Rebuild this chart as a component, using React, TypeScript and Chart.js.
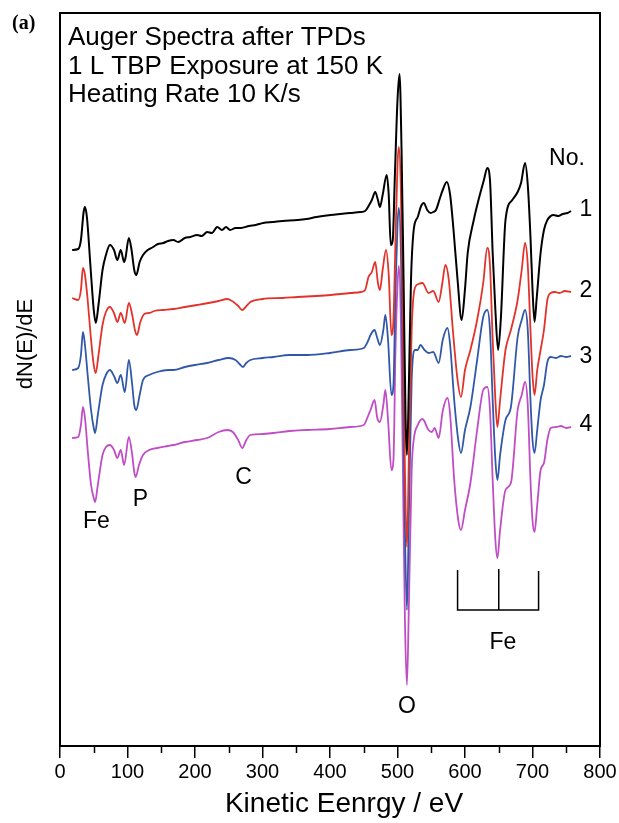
import React, { useEffect, useRef } from "react";
import { Chart, registerables } from "chart.js";

Chart.register(...registerables);

// Kinetic energy (eV) and dN(E)/dE (arb. units, offset per spectrum)
const energy1 = [18, 27, 31, 35, 37, 40, 45, 50, 53, 57, 63, 68, 74, 80, 85, 90, 95, 97, 102, 106, 110, 113, 118, 123, 130, 138, 145, 153, 160, 168, 175, 185, 193, 203, 210, 218, 225, 233, 240, 246, 252, 260, 268, 280, 290, 301, 315, 330, 352, 365, 380, 401, 415, 430, 445, 452, 458, 462, 467, 471, 474, 478, 484, 487, 490, 493, 496, 500, 503, 506, 509, 512, 514, 517, 520, 524, 530, 535, 539, 544, 549, 553, 557, 562, 567, 573, 578, 583, 589, 595, 600, 604, 613, 620, 628, 633, 637, 641, 645, 649, 653, 660, 670, 678, 683, 689, 693, 697, 700, 703, 706, 712, 717, 722, 727, 731, 738, 745, 752, 757];
const spectrum1 = [49.6, 49.7, 50.6, 53.4, 53.9, 52.8, 48.1, 43.6, 42.3, 44.1, 47.6, 49.1, 50.1, 49.6, 48.6, 49.6, 48.4, 48.8, 50.8, 49.6, 47.6, 47.1, 48.4, 49.1, 49.6, 49.9, 50.2, 50.3, 50.5, 50.6, 50.4, 50.8, 50.9, 51.1, 51.0, 51.4, 51.3, 51.9, 51.6, 51.9, 51.6, 51.8, 51.8, 52.0, 52.1, 52.3, 52.4, 52.5, 52.6, 52.7, 52.9, 53.1, 53.2, 53.3, 53.4, 53.5, 54.1, 54.6, 55.4, 54.6, 53.9, 55.1, 57.1, 55.1, 50.1, 50.6, 56.8, 64.6, 67.2, 59.6, 46.6, 32.6, 29.1, 36.6, 46.6, 51.6, 52.9, 54.0, 54.3, 53.6, 53.3, 53.4, 53.6, 54.6, 55.6, 56.4, 55.1, 51.6, 46.6, 42.6, 45.7, 49.3, 52.6, 54.6, 56.6, 57.8, 56.6, 49.3, 43.6, 39.6, 42.6, 52.6, 54.6, 55.4, 56.3, 58.3, 56.1, 50.9, 45.7, 42.4, 44.6, 49.3, 51.6, 52.6, 53.0, 53.1, 53.0, 53.2, 53.3, 53.5];

const energy2 = [18, 27, 31, 34, 37, 41, 46, 50, 53, 57, 63, 68, 74, 80, 85, 90, 96, 102, 107, 111, 114, 119, 125, 132, 140, 153, 168, 185, 203, 220, 235, 248, 257, 264, 270, 275, 282, 300, 330, 352, 380, 401, 430, 446, 452, 457, 462, 467, 471, 474, 478, 483, 487, 491, 494, 497, 500, 502, 505, 508, 511, 514, 517, 521, 525, 531, 537, 546, 553, 561, 566, 571, 576, 582, 589, 594, 600, 608, 618, 627, 633, 637, 641, 645, 648, 652, 660, 668, 678, 684, 689, 693, 697, 700, 703, 707, 712, 717, 722, 727, 733, 740, 748, 757];
const spectrum2 = [44.8, 44.6, 45.6, 47.8, 47.1, 44.6, 40.6, 38.1, 37.3, 39.1, 42.1, 43.4, 43.9, 43.3, 42.4, 43.3, 42.3, 44.3, 43.1, 41.6, 41.1, 42.4, 43.2, 43.3, 43.5, 43.6, 43.7, 43.9, 44.1, 44.3, 44.5, 44.7, 44.4, 44.0, 43.6, 43.9, 44.4, 44.7, 44.8, 44.9, 45.0, 45.1, 45.3, 45.4, 45.6, 46.9, 47.4, 48.4, 46.3, 45.6, 47.6, 49.6, 47.1, 41.1, 42.6, 50.6, 58.1, 59.9, 55.6, 42.6, 27.6, 19.9, 29.6, 41.6, 45.6, 46.2, 46.3, 45.3, 45.5, 44.4, 46.1, 48.1, 46.6, 41.6, 36.6, 34.9, 37.6, 39.6, 42.6, 46.3, 49.8, 48.1, 40.6, 34.6, 31.9, 34.6, 39.6, 41.6, 44.6, 47.6, 50.3, 48.1, 41.6, 37.1, 35.1, 37.6, 39.6, 41.6, 44.6, 45.3, 45.4, 45.3, 45.5, 45.4];

const energy3 = [18, 27, 31, 34, 37, 41, 46, 50, 52, 56, 63, 68, 74, 80, 85, 90, 96, 102, 107, 110, 113, 118, 123, 132, 144, 160, 168, 185, 200, 218, 235, 250, 260, 266, 271, 276, 282, 300, 316, 340, 366, 400, 430, 450, 457, 460, 466, 470, 474, 479, 482, 486, 491, 494, 497, 500, 502, 505, 508, 511, 514, 517, 521, 526, 530, 534, 540, 546, 553, 561, 567, 574, 578, 584, 590, 594, 600, 608, 618, 627, 633, 637, 641, 645, 648, 652, 660, 668, 678, 684, 689, 693, 697, 700, 703, 707, 712, 717, 722, 727, 735, 742, 750, 757];
const spectrum3 = [37.6, 37.8, 39.1, 41.4, 40.1, 37.1, 33.6, 31.8, 31.3, 33.1, 36.1, 37.1, 37.6, 37.0, 36.3, 37.1, 35.4, 38.6, 36.1, 34.1, 33.6, 35.1, 36.6, 37.1, 37.4, 37.6, 37.6, 37.9, 38.1, 38.3, 38.6, 38.8, 38.6, 38.2, 37.9, 38.3, 38.6, 38.8, 38.9, 39.1, 39.1, 39.3, 39.6, 39.8, 40.6, 41.1, 41.6, 40.8, 40.1, 41.6, 43.1, 40.6, 35.1, 36.1, 45.6, 52.1, 53.8, 49.6, 36.6, 21.6, 13.6, 23.6, 36.6, 39.6, 39.6, 40.1, 39.6, 39.3, 39.4, 38.3, 40.6, 41.8, 40.1, 34.6, 30.6, 29.3, 31.6, 33.9, 38.6, 42.9, 43.6, 41.6, 34.6, 28.6, 26.6, 29.1, 32.6, 33.9, 40.9, 42.6, 43.6, 41.6, 34.6, 30.6, 29.3, 31.6, 34.6, 36.1, 38.4, 38.9, 38.8, 39.0, 38.9, 39.0];

const energy4 = [18, 27, 31, 34, 37, 41, 46, 50, 52, 56, 63, 68, 74, 80, 85, 90, 95, 102, 107, 110, 112, 117, 123, 132, 144, 160, 168, 185, 203, 218, 235, 248, 256, 264, 270, 276, 282, 300, 316, 340, 366, 400, 430, 450, 457, 460, 466, 470, 474, 479, 482, 486, 491, 494, 497, 500, 502, 505, 508, 511, 514, 517, 521, 524, 530, 537, 546, 551, 555, 561, 567, 574, 578, 584, 590, 594, 600, 608, 618, 627, 633, 637, 641, 645, 648, 652, 660, 668, 678, 684, 689, 693, 697, 700, 703, 707, 712, 717, 722, 727, 735, 742, 750, 757];
const spectrum4 = [30.8, 30.9, 32.1, 33.9, 32.8, 29.6, 26.1, 24.8, 24.4, 26.1, 29.1, 29.9, 30.1, 29.6, 28.8, 29.6, 28.1, 30.9, 29.1, 27.4, 26.9, 28.1, 29.1, 29.6, 29.8, 30.0, 30.1, 30.4, 30.6, 30.8, 31.4, 31.6, 31.4, 30.6, 29.8, 30.6, 31.1, 31.2, 31.3, 31.5, 31.6, 31.7, 31.9, 32.1, 33.1, 33.6, 34.6, 32.8, 32.4, 34.1, 35.6, 32.6, 27.6, 28.6, 39.6, 46.1, 48.0, 42.6, 27.6, 12.6, 6.1, 14.6, 27.6, 30.6, 32.1, 32.7, 31.6, 31.4, 31.8, 30.8, 33.5, 34.8, 33.1, 26.6, 22.6, 21.6, 23.6, 26.3, 31.6, 35.6, 35.9, 33.6, 26.6, 20.6, 18.8, 21.6, 25.6, 26.3, 33.6, 35.1, 36.4, 34.1, 26.6, 22.6, 21.4, 24.1, 27.6, 28.3, 30.6, 31.8, 31.9, 32.0, 31.8, 31.9];

const seriesNames = ["1", "2", "3", "4"];
const seriesColors = ["#000000", "#e2332a", "#3158a8", "#c04cc6"];
const xMajorTicks = [0, 100, 200, 300, 400, 500, 600, 700, 800];
const xMinorTicks = [50, 150, 250, 350, 450, 550, 650, 750];
const peakLabels = ["Fe", "P", "C", "O"];
const peakEnergies = [54, 119, 272, 514];
const feBracketEnergies = [589, 650, 709];

const FONT = "'Liberation Sans', Arial, Helvetica, sans-serif";

function pairs(xs: number[], ys: number[]) {
  return xs.map((x, i) => ({ x, y: ys[i] }));
}

const decorPlugin = {
  id: "decor",
  afterDraw(chart: any) {
    const { ctx, chartArea } = chart;
    const xs = chart.scales.x;
    ctx.save();
    // frame
    ctx.strokeStyle = "#000";
    ctx.lineWidth = 2;
    ctx.strokeRect(chartArea.left, chartArea.top, chartArea.right - chartArea.left, chartArea.bottom - chartArea.top);
    // minor ticks
    ctx.lineWidth = 1.5;
    ctx.beginPath();
    xMinorTicks.forEach((v) => {
      const px = Math.round(xs.getPixelForValue(v)) + 0.5;
      ctx.moveTo(px, chartArea.bottom);
      ctx.lineTo(px, chartArea.bottom + 7);
    });
    ctx.stroke();

    ctx.fillStyle = "#000";
    // panel tag
    ctx.font = "bold 20px 'Liberation Serif', 'Times New Roman', serif";
    ctx.textAlign = "left";
    ctx.textBaseline = "alphabetic";
    ctx.fillText("(a)", 12, 29);

    // header text
    ctx.font = `26px ${FONT}`;
    ctx.fillText("Auger Spectra after TPDs", 68, 45);
    ctx.fillText("1 L TBP Exposure at 150 K", 68, 74);
    ctx.fillText("Heating Rate 10 K/s", 68, 102);

    // series numbers
    ctx.font = `23px ${FONT}`;
    ctx.textAlign = "center";
    ctx.textBaseline = "middle";
    ctx.fillText("No.", 567, 159);
    const numY = [210, 291, 357, 425];
    seriesNames.forEach((n, i) => ctx.fillText(n, 586, numY[i]));

    // peak labels
    const peakY = [522, 500, 478, 707];
    peakLabels.forEach((l, i) => ctx.fillText(l, xs.getPixelForValue(peakEnergies[i]), peakY[i]));
    ctx.fillText("Fe", xs.getPixelForValue(656), 643);

    // Fe bracket
    ctx.lineWidth = 1.5;
    ctx.beginPath();
    const bx = feBracketEnergies.map((e) => xs.getPixelForValue(e));
    ctx.moveTo(bx[0], 570);
    ctx.lineTo(bx[0], 610);
    ctx.lineTo(bx[2], 610);
    ctx.lineTo(bx[2], 571);
    ctx.moveTo(bx[1], 569);
    ctx.lineTo(bx[1], 610);
    ctx.stroke();

    // y title
    ctx.save();
    ctx.translate(26, 344);
    ctx.rotate(-Math.PI / 2);
    ctx.font = `22px ${FONT}`;
    ctx.textAlign = "center";
    ctx.textBaseline = "middle";
    ctx.fillText("dN(E)/dE", 0, 0);
    ctx.restore();

    // x title
    ctx.font = `28px ${FONT}`;
    ctx.textAlign = "center";
    ctx.textBaseline = "middle";
    ctx.fillText("Kinetic Eenrgy / eV", 344, 804);
    ctx.restore();
  },
};

export default function App() {
  const ref = useRef<HTMLCanvasElement>(null);
  useEffect(() => {
    const canvas = ref.current;
    if (!canvas) return;
    const spectra = [
      pairs(energy1, spectrum1),
      pairs(energy2, spectrum2),
      pairs(energy3, spectrum3),
      pairs(energy4, spectrum4),
    ];
    const chart = new Chart(canvas, {
      type: "line",
      data: {
        datasets: spectra.map((d, i) => ({
          label: seriesNames[i],
          data: d,
          borderColor: seriesColors[i],
          borderWidth: i === 0 ? 2 : 1.8,
          pointRadius: 0,
          fill: false,
          cubicInterpolationMode: "monotone" as const,
        })),
      },
      options: {
        responsive: false,
        animation: false,
        devicePixelRatio: 1,
        layout: { padding: { top: 13, right: 19, left: 0, bottom: 0 } },
        plugins: { legend: { display: false }, tooltip: { enabled: false }, title: { display: false } },
        scales: {
          x: {
            type: "linear",
            min: 0,
            max: 800,
            afterBuildTicks: (s: any) => {
              s.ticks = xMajorTicks.map((v) => ({ value: v }));
            },
            ticks: { color: "#000", font: { family: FONT, size: 20 }, padding: 2, maxRotation: 0, autoSkip: false },
            grid: { drawOnChartArea: false, drawTicks: true, tickLength: 12, color: "#000", lineWidth: 1.5 },
            border: { display: true, color: "#000", width: 2 },
            afterFit: (s: any) => {
              s.height = 77;
            },
          },
          y: {
            min: 0,
            max: 73.3,
            ticks: { display: false },
            grid: { display: false },
            border: { display: true, color: "#000", width: 2 },
            afterFit: (s: any) => {
              s.width = 60;
            },
          },
        },
      },
      plugins: [decorPlugin],
    });
    return () => chart.destroy();
  }, []);
  return (
    <div style={{ position: "absolute", left: 0, top: 0, width: 619, height: 823, background: "#fff" }}>
      <canvas ref={ref} width={619} height={823} style={{ display: "block" }} />
    </div>
  );
}
